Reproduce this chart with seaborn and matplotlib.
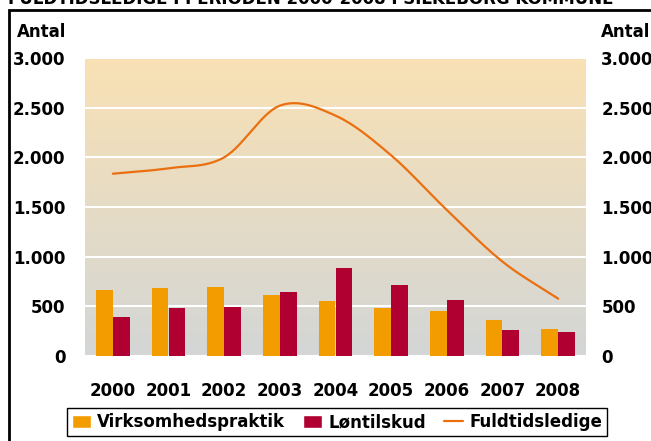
#!/usr/bin/env python3
"""Fuldtidsledige, virksomhedspraktik og løntilskud 2000-2008, Silkeborg Kommune."""
import matplotlib
matplotlib.use('Agg')
import matplotlib.pyplot as plt
import numpy as np
import pandas as pd
import seaborn as sns
from matplotlib.lines import Line2D
from matplotlib.patches import Patch, Rectangle
from matplotlib.ticker import FuncFormatter

# Data
years = ['2000', '2001', '2002', '2003', '2004', '2005', '2006', '2007', '2008']
virksomhedspraktik = [665, 685, 695, 615, 555, 485, 455, 365, 275]
loentilskud = [395, 485, 495, 645, 885, 715, 565, 265, 245]
fuldtidsledige = [1835, 1890, 2000, 2520, 2420, 2020, 1470, 950, 577]

series_names = ['Virksomhedspraktik', 'Løntilskud']
line_name = 'Fuldtidsledige'
title = 'FULDTIDSLEDIGE I PERIODEN 2000-2008 I SILKEBORG KOMMUNE'
y_ticks = [0, 500, 1000, 1500, 2000, 2500, 3000]

ORANGE = '#F39C00'
RED = '#B00032'
LINE = '#EA6F10'


def smooth_curve(y, steps=30):
    """Catmull-Rom curve through the points (like Excel's smoothed line)."""
    y = np.asarray(y, dtype=float)
    p = np.concatenate([[2 * y[0] - y[1]], y, [2 * y[-1] - y[-2]]])
    xs, ys = [], []
    for i in range(len(y) - 1):
        t = np.linspace(0, 1, steps, endpoint=False)
        p0, p1, p2, p3 = p[i], p[i + 1], p[i + 2], p[i + 3]
        seg = 0.5 * ((2 * p1) + (-p0 + p2) * t + (2 * p0 - 5 * p1 + 4 * p2 - p3) * t ** 2
                     + (-p0 + 3 * p1 - 3 * p2 + p3) * t ** 3)
        xs.append(i + t)
        ys.append(seg)
    xs.append([len(y) - 1])
    ys.append([y[-1]])
    return np.concatenate(xs), np.concatenate(ys)


df = pd.DataFrame({
    'År': years * 2,
    'Antal': virksomhedspraktik + loentilskud,
    'Serie': [series_names[0]] * len(years) + [series_names[1]] * len(years),
})

sns.set_style('white')
plt.rcParams['font.family'] = ['DejaVu Sans']
plt.rcParams['font.weight'] = 'bold'
plt.rcParams['text.color'] = 'black'
plt.rcParams['xtick.color'] = 'black'
plt.rcParams['ytick.color'] = 'black'

fig = plt.figure(figsize=(6.51, 4.41), dpi=100)
ax = fig.add_axes([85 / 651, 85 / 441, 501 / 651, 298 / 441])

# gradient background
grad = np.linspace(0, 1, 256)[:, None]
top = np.array([249, 225, 180]) / 255
bottom = np.array([211, 214, 214]) / 255
img = top[None, None, :] * (1 - grad[:, :, None]) + bottom[None, None, :] * grad[:, :, None]
ax.imshow(img, extent=[-0.5, 8.5, 0, 3000], aspect='auto', zorder=0)

ax.yaxis.grid(True, color='white', linewidth=1.5, zorder=1)
ax.set_axisbelow(True)

sns.barplot(data=df, x='År', y='Antal', hue='Serie', palette=[ORANGE, RED],
            width=0.61, saturation=1, linewidth=0, ax=ax, legend=False, zorder=2)

xs, ys = smooth_curve(fuldtidsledige)
sns.lineplot(x=xs, y=ys, color=LINE, linewidth=1.6, ax=ax, zorder=3)

ax.set_xlim(-0.5, 8.5)
ax.set_ylim(0, 3000)
ax.set_yticks(y_ticks)
fmt = FuncFormatter(lambda v, _: f'{int(v):,}'.replace(',', '.'))
ax.yaxis.set_major_formatter(fmt)
ax.set_xlabel('')
ax.set_ylabel('')
for s in ax.spines.values():
    s.set_visible(False)
ax.tick_params(axis='y', length=0, pad=14, labelsize=12)
ax.tick_params(axis='x', length=0, pad=19, labelsize=12)

ax2 = ax.twinx()
ax2.set_ylim(0, 3000)
ax2.set_yticks(y_ticks)
ax2.yaxis.set_major_formatter(fmt)
ax2.tick_params(axis='y', length=0, pad=11, labelsize=12)
for s in ax2.spines.values():
    s.set_visible(False)

fig.text(17 / 651, 1 - 32 / 441, 'Antal', fontsize=12, va='center', ha='left')
fig.text(601 / 651, 1 - 32 / 441, 'Antal', fontsize=12, va='center', ha='left')

# clipped title and frame
fig.text(8 / 651, 1 - 4 / 441, title, fontsize=12, va='baseline', ha='left')
fig.add_artist(Rectangle((9 / 651, -0.1), 2, 1 - 9.5 / 441 + 0.1, transform=fig.transFigure,
                         fill=False, edgecolor='black', linewidth=2))

handles = [Patch(facecolor=ORANGE, label=series_names[0]),
           Patch(facecolor=RED, label=series_names[1]),
           Line2D([0], [0], color=LINE, linewidth=1.6, label=line_name)]
leg = fig.legend(handles=handles, loc='center', bbox_to_anchor=(337 / 651, 1 - 422 / 441),
                 ncol=3, frameon=True, fancybox=False, edgecolor='black', framealpha=1,
                 prop={'size': 12, 'weight': 'bold'}, handlelength=1.15, handleheight=0.8,
                 handletextpad=0.35, columnspacing=1.1, borderpad=0.3, borderaxespad=0)
leg.get_frame().set_linewidth(1)

fig.savefig('out.png', dpi=100)
